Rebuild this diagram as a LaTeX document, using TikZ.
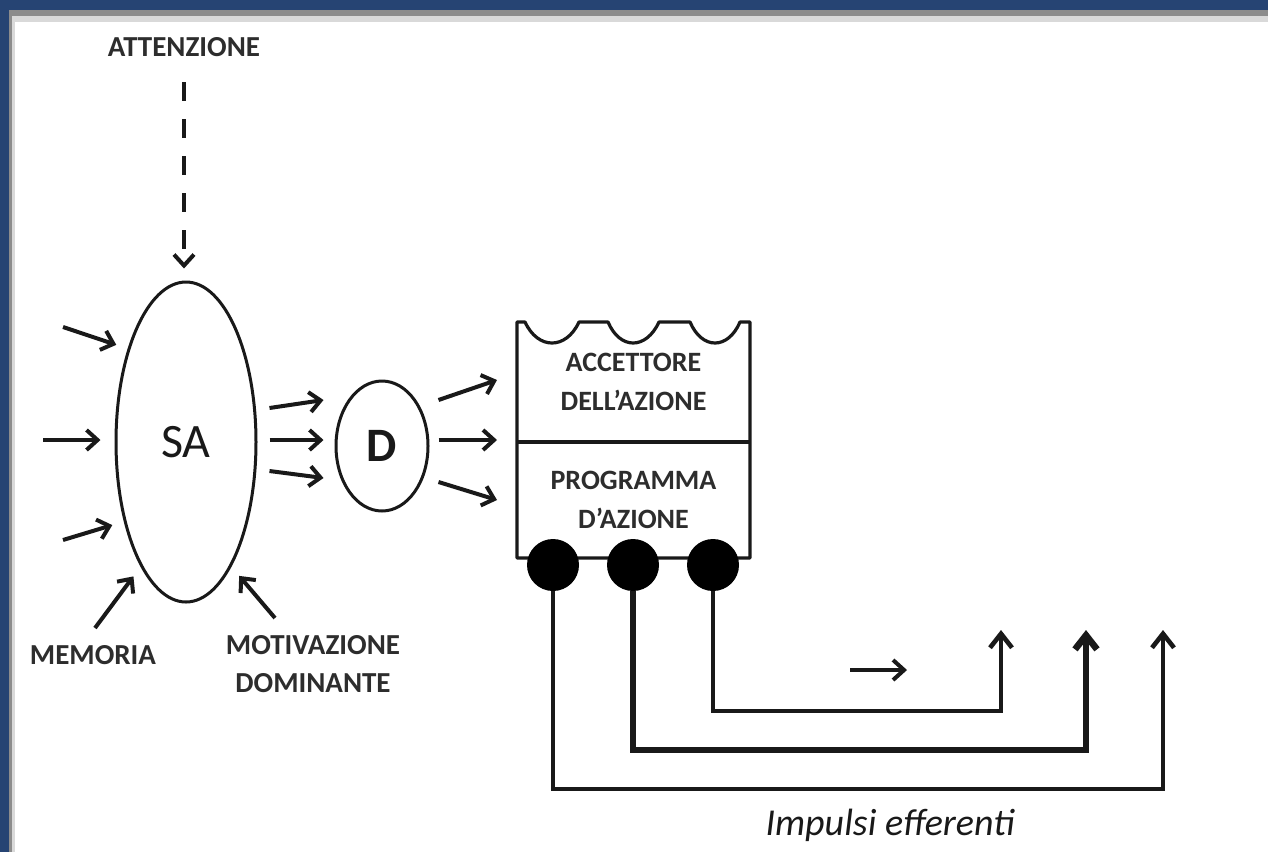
\documentclass[tikz,border=0pt]{standalone}
\usepackage{fontspec}
\setmainfont{Carlito}
\usetikzlibrary{arrows.meta,shapes.geometric}
\definecolor{framebl}{RGB}{38,68,115}
\definecolor{ink}{RGB}{25,25,25}
\definecolor{txt}{RGB}{45,45,45}
\begin{document}
\begin{tikzpicture}[x=0.5pt,y=-0.5pt,
    arr/.style={-{Straight Barb[length=5.5pt,width=10pt]},line width=2pt,draw=ink},
    efl/.style={-{Straight Barb[length=7pt,width=11pt]},draw=ink},
    lab/.style={font=\bfseries\fontsize{14.5}{19}\selectfont,text=txt,align=center,inner sep=2pt},
    cell/.style={font=\bfseries\fontsize{14}{19.5}\selectfont,text=txt,align=center,inner sep=0pt,outer sep=0pt,minimum width=116.5pt},
    oval/.style={ellipse,draw=ink,line width=1.5pt,inner sep=0pt,text=ink},
    knob/.style={circle,fill=black,minimum size=26pt,inner sep=0pt}]
    \useasboundingbox (0,0) rectangle (1268,852);
    \fill[framebl] (0,0) rectangle (1268,852);
    \fill[black!45] (9,10) rectangle (1268,852);
    \fill[black!15] (12,16) rectangle (1268,852);
    \fill[white] (15,22) rectangle (1268,852);

    \node[lab] (att) at (184,47) {ATTENZIONE};
    \node[oval,minimum width=70pt,minimum height=160pt,font=\fontsize{24}{24}\selectfont] (sa) at (186,442) {SA};
    \node[oval,minimum width=46pt,minimum height=65pt,font=\bfseries\fontsize{24}{24}\selectfont] (d) at (382,446) {D};
    \node[lab] (mem) at (93,655) {MEMORIA};
    \node[lab] (mot) at (313,664) {MOTIVAZIONE\\DOMINANTE};
    \node[cell,minimum height=60pt] (acc) at (633.5,382) {ACCETTORE\\DELL'AZIONE};
    \node[cell,minimum height=58pt] (prog) at (633.5,500) {PROGRAMMA\\D'AZIONE};

    \draw[arr,dash pattern=on 9.5pt off 9pt,shorten <=10.5pt,shorten >=6pt] (att.south) -- (att.south |- sa.north);

    \coordinate (i1) at (63,327);
    \coordinate (i2) at (43,440);
    \coordinate (i3) at (63,540);
    \coordinate (m0) at (95,628);
    \coordinate (v0) at (275,618);
    \draw[arr,shorten >=6pt] (i1) -- (sa.122);
    \draw[arr,shorten >=7pt] (i2) -- (i2 -| sa.west);
    \draw[arr,shorten >=6pt] (i3) -- (sa.232);
    \draw[arr,shorten >=6pt] (m0) -- (sa.250);
    \draw[arr,shorten >=6pt] (v0) -- (sa.290);

    \foreach \a/\b in {-34/-46,-2/-6,29/32}
      \draw[arr] ([shift={(12,\a)}]sa.east) -- ([shift={(-11,\b)}]d.west);
    \foreach \a/\b in {-46/-62,-6/-2,36/58}
      \draw[arr] ([shift={(9,\a)}]d.east) -- ([shift={(-20,\b)}]acc.south west);

    \draw[line width=1.6pt,draw=ink,line join=round] (acc.north west) -- (525,322)
      .. controls (538,350) and (566,350) .. (579,322) -- (608,322)
      .. controls (620,350) and (646,350) .. (659,322) -- (690,322)
      .. controls (702,350) and (728,350) .. (740,322) -- (acc.north east)
      -- (prog.south east) -- (prog.south west) -- cycle;
    \draw[line width=1.6pt,draw=ink] (acc.south west) -- (acc.south east);

    \foreach \i/\x/\y/\e/\w in {1/553/789/1163/2.3,2/633/750/1086/3.3,3/713/711/1001/2.3}{
      \node[knob] (k\i) at (\x,565) {};
      \coordinate (e\i) at (\e,630);
      \draw[efl,line width=\w pt] (k\i.south) |- (\e,\y) -- (e\i);
    }

    \coordinate (s0) at (850,670);
    \coordinate (s1) at (907,670);
    \draw[arr] (s0) -- (s1);

    \node[font=\itshape\fontsize{19}{19}\selectfont,text=ink,anchor=base] (imp) at (890,835) {Impulsi efferenti};
\end{tikzpicture}
\end{document}
